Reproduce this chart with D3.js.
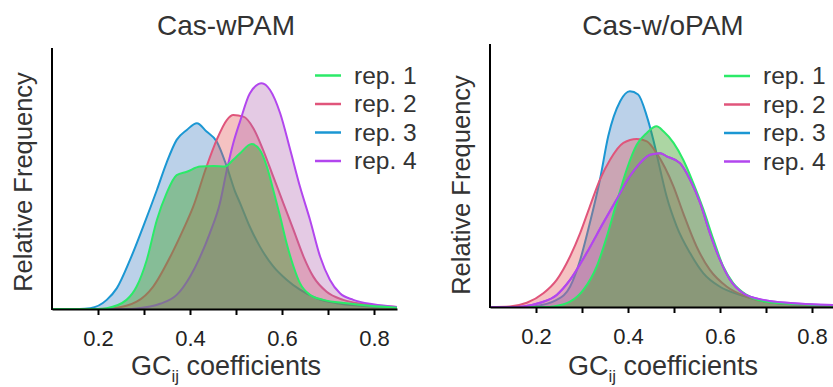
<!DOCTYPE html>
<meta charset="utf-8">
<style type="text/css">
body { margin: 0; background: #fff; }
svg { font-family: "Liberation Sans", Arial, Helvetica, sans-serif; }
.axis path, .axis line { stroke: #000; stroke-width: 2px; }
.axis text { fill: #222; font-size: 22px; font-family: "Liberation Sans", Arial, sans-serif; }
.label { fill: #333; }
</style>
<body>
<script src="https://d3js.org/d3.v7.min.js"></script>
<script>
// legend names and colours
let reps = ["rep. 1", "rep. 2", "rep. 3", "rep. 4"];
let tickValues = [0.2, 0.3, 0.4, 0.5, 0.6, 0.7, 0.8];
let tickLabels = ["0.2", "", "0.4", "", "0.6", "", "0.8"];

// Cas-wPAM densities, [GC coefficient, relative frequency]
let wpamRep1 = [[0.10,0],[0.20,0],[0.219,0.003],[0.262,0.035],[0.284,0.086],[0.306,0.188],[0.328,0.341],[0.349,0.443],[0.371,0.513],[0.393,0.526],[0.422,0.546],[0.451,0.548],[0.476,0.546],[0.494,0.572],[0.509,0.597],[0.534,0.632],[0.552,0.609],[0.567,0.546],[0.581,0.456],[0.596,0.354],[0.610,0.252],[0.625,0.163],[0.639,0.099],[0.661,0.054],[0.690,0.035],[0.741,0.022],[0.791,0.012],[0.85,0.005]];
let wpamRep2 = [[0.10,0],[0.20,0],[0.233,0.003],[0.284,0.028],[0.320,0.086],[0.357,0.2],[0.385,0.303],[0.407,0.392],[0.436,0.546],[0.458,0.648],[0.480,0.724],[0.494,0.743],[0.516,0.737],[0.538,0.692],[0.559,0.609],[0.581,0.507],[0.603,0.405],[0.625,0.303],[0.647,0.2],[0.668,0.124],[0.697,0.066],[0.733,0.035],[0.784,0.018],[0.85,0.008]];
let wpamRep3 = [[0.10,0],[0.16,0],[0.183,0.003],[0.219,0.035],[0.241,0.08],[0.270,0.19],[0.298,0.315],[0.328,0.456],[0.349,0.56],[0.371,0.648],[0.393,0.686],[0.415,0.712],[0.436,0.68],[0.458,0.642],[0.480,0.546],[0.498,0.45],[0.509,0.405],[0.530,0.315],[0.552,0.239],[0.581,0.163],[0.610,0.112],[0.639,0.074],[0.675,0.041],[0.719,0.022],[0.770,0.012],[0.85,0.006]];
let wpamRep4 = [[0.10,0],[0.26,0],[0.284,0.002],[0.335,0.02],[0.371,0.054],[0.400,0.124],[0.422,0.2],[0.443,0.29],[0.465,0.405],[0.480,0.532],[0.494,0.635],[0.509,0.72],[0.530,0.826],[0.556,0.865],[0.574,0.839],[0.596,0.75],[0.618,0.609],[0.639,0.469],[0.661,0.341],[0.683,0.2],[0.704,0.112],[0.726,0.06],[0.755,0.035],[0.798,0.018],[0.85,0.008]];

// Cas-w/oPAM densities
let wopamRep1 = [[0.10,0],[0.22,0],[0.238,0.002],[0.274,0.02],[0.303,0.065],[0.332,0.154],[0.354,0.268],[0.375,0.395],[0.397,0.522],[0.419,0.617],[0.441,0.662],[0.462,0.687],[0.477,0.668],[0.499,0.624],[0.52,0.56],[0.542,0.471],[0.564,0.37],[0.586,0.255],[0.607,0.154],[0.629,0.09],[0.658,0.046],[0.701,0.02],[0.774,0.01],[0.85,0.005]];
let wopamRep2 = [[0.10,0],[0.143,0.002],[0.18,0.016],[0.216,0.052],[0.245,0.103],[0.274,0.192],[0.296,0.281],[0.317,0.382],[0.339,0.484],[0.361,0.56],[0.39,0.624],[0.419,0.639],[0.441,0.63],[0.462,0.585],[0.499,0.458],[0.52,0.357],[0.549,0.23],[0.578,0.141],[0.615,0.077],[0.658,0.039],[0.716,0.016],[0.85,0.004]];
let wopamRep3 = [[0.10,0],[0.18,0],[0.194,0.002],[0.245,0.027],[0.274,0.077],[0.296,0.179],[0.317,0.319],[0.339,0.484],[0.357,0.649],[0.383,0.782],[0.404,0.82],[0.422,0.808],[0.441,0.725],[0.455,0.636],[0.470,0.522],[0.484,0.42],[0.506,0.306],[0.535,0.205],[0.564,0.128],[0.6,0.077],[0.643,0.046],[0.701,0.02],[0.774,0.008],[0.85,0.005]];
let wopamRep4 = [[0.10,0],[0.15,0],[0.172,0.002],[0.209,0.016],[0.245,0.046],[0.274,0.103],[0.310,0.205],[0.346,0.319],[0.375,0.408],[0.404,0.497],[0.426,0.547],[0.448,0.579],[0.470,0.585],[0.484,0.573],[0.513,0.547],[0.535,0.484],[0.557,0.395],[0.578,0.281],[0.6,0.179],[0.622,0.103],[0.651,0.052],[0.694,0.027],[0.759,0.014],[0.85,0.007]];

let lineColors = ["#2bea68", "#e0557b", "#1b97d3", "#b246ee"];
let fillColors = ["rgba(70,165,50,0.45)", "rgba(230,95,95,0.38)", "rgba(70,130,195,0.37)", "rgba(175,100,175,0.34)"];

let svg = d3.select("body")
    .append("svg")
    .attr("width", 833)
    .attr("height", 387);

function drawPanel(p) {
    let x = d3.scaleLinear().domain([0.1, 0.85]).range([p.left, p.left + 345]);
    let y = d3.scaleLinear().domain([0, 1]).range([p.bottom, p.top]);

    let area = d3.area()
        .x(d => x(d[0])).y0(y(0)).y1(d => y(d[1]))
        .curve(d3.curveMonotoneX);
    let line = d3.line()
        .x(d => x(d[0])).y(d => y(d[1]))
        .curve(d3.curveMonotoneX);

    let g = svg.append("g");
    function drawLine(i) {
        g.append("path").attr("d", line(p.series[i]))
            .attr("fill", "none")
            .attr("stroke", lineColors[i])
            .attr("stroke-width", 2)
            .attr("stroke-linejoin", "round");
    }
    p.order.forEach(function(i) {
        g.append("path").attr("d", area(p.series[i]))
            .attr("fill", fillColors[i]);
        drawLine(i);
    });
    // some outlines stay bright above the other fills
    p.raise.forEach(drawLine);

    // x axis
    svg.append("g")
        .attr("class", "axis")
        .attr("transform", "translate(0," + p.bottom + ")")
        .call(d3.axisBottom(x).tickValues(tickValues)
            .tickFormat((d, i) => tickLabels[i]).tickSize(6).tickPadding(15).tickSizeOuter(0));

    // y axis line only
    svg.append("line")
        .attr("x1", p.left).attr("x2", p.left)
        .attr("y1", p.top).attr("y2", p.bottom + 1)
        .attr("stroke", "#000").attr("stroke-width", 2);

    // title
    svg.append("text").attr("class", "label")
        .attr("x", p.titleX).attr("y", 35)
        .attr("text-anchor", "middle").attr("font-size", 28)
        .text(p.title);

    // x title with subscript
    let xt = svg.append("text").attr("class", "label")
        .attr("x", p.titleX).attr("y", 375)
        .attr("text-anchor", "middle").attr("font-size", 27);
    xt.append("tspan").text("GC");
    xt.append("tspan").attr("font-size", 17).attr("dy", 7).text("ij");
    xt.append("tspan").attr("dy", -7).text(" coefficients");

    // y title
    svg.append("text").attr("class", "label")
        .attr("transform", "translate(" + p.yLabelX + "," + p.yLabelY + ") rotate(-90)")
        .attr("text-anchor", "middle").attr("font-size", 25.5)
        .text("Relative Frequency");

    // legend
    reps.forEach(function(r, i) {
        let ly = p.legendY + i * 28.5;
        svg.append("line")
            .attr("x1", p.legendX).attr("x2", p.legendX + 26)
            .attr("y1", ly).attr("y2", ly)
            .attr("stroke", lineColors[i]).attr("stroke-width", 2.5);
        svg.append("text").attr("class", "label")
            .attr("x", p.legendX + 39).attr("y", ly + 8)
            .attr("font-size", 24.5)
            .text(r);
    });
}

drawPanel({
    left: 52, top: 48, bottom: 309, title: "Cas-wPAM", titleX: 226,
    yLabelX: 32, yLabelY: 182, legendX: 315, legendY: 75.5,
    series: [wpamRep1, wpamRep2, wpamRep3, wpamRep4], order: [2, 1, 3, 0], raise: []
});
drawPanel({
    left: 490, top: 44, bottom: 307, title: "Cas-w/oPAM", titleX: 663,
    yLabelX: 470, yLabelY: 185, legendX: 724, legendY: 76,
    series: [wopamRep1, wopamRep2, wopamRep3, wopamRep4], order: [2, 1, 3, 0], raise: [3]
});
</script>
</body>
